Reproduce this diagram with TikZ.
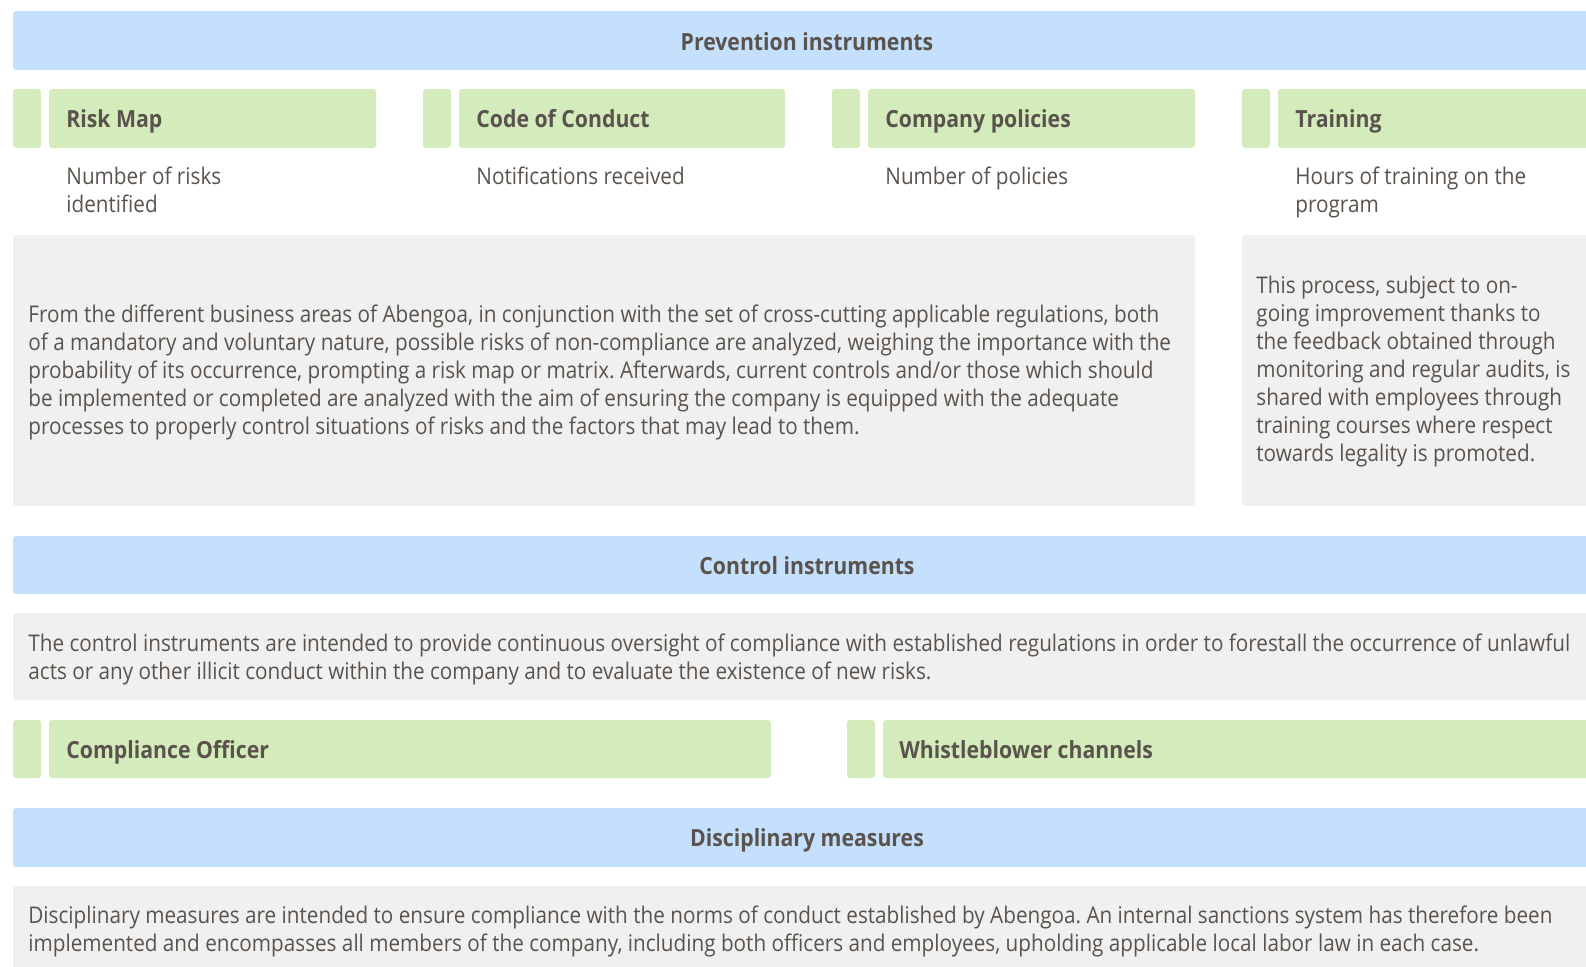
\documentclass[tikz,border=0pt]{standalone}
\usepackage{fontspec}
\setmainfont{Open Sans}[FakeStretch=0.9]
\frenchspacing
\definecolor{barblue}{RGB}{196,224,252}
\definecolor{tabgreen}{RGB}{212,235,187}
\definecolor{notegray}{RGB}{240,240,240}
\definecolor{ink}{RGB}{90,83,77}
\tikzset{
  titlebar/.style={fill=barblue,rounded corners=1.5pt},
  tab/.style={fill=tabgreen,rounded corners=1.5pt},
  notebox/.style={fill=notegray,rounded corners=1.5pt},
  title/.style={font=\fontsize{11.8}{14}\bfseries,anchor=base},
  head/.style={font=\fontsize{11.8}{14}\bfseries,anchor=base west},
  body/.style={align=left,anchor=north west},
}

\begin{document}
\begin{tikzpicture}[x=.5pt,y=-.5pt,every node/.style={text=ink,inner sep=0pt},font=\fontsize{11.5}{14}\selectfont]
\useasboundingbox (0,0) rectangle (1586,966);
\clip (0,0) rectangle (1586,966);
% prevention
\path[titlebar] (13,11) rectangle (1600,70);
\node[title] (prevention) at (807,50) {Prevention instruments};
\path[tab] (13,89) rectangle (41,148);
\path[tab] (49,89) rectangle (376,148);
\node[head] (riskmap) at (66,127) {Risk Map};
\node[body] (riskmapkpi) at (66,166) {Number of risks\\identified};
\path[tab] (423,89) rectangle (451,148);
\path[tab] (459,89) rectangle (785,148);
\node[head] (conduct) at (476,127) {Code of Conduct};
\node[body] (conductkpi) at (476,166) {Notifications received};
\path[tab] (832,89) rectangle (860,148);
\path[tab] (868,89) rectangle (1195,148);
\node[head] (policies) at (885,127) {Company policies};
\node[body] (policieskpi) at (885,166) {Number of policies};
\path[tab] (1242,89) rectangle (1270,148);
\path[tab] (1278,89) rectangle (1600,148);
\node[head] (training) at (1295,127) {Training};
\node[body] (trainingkpi) at (1295,166) {Hours of training on the\\program};
\path[notebox] (13,235) rectangle (1195,506);
\node[body] (riskmaptext) at (28,304) {From the different business areas of Abengoa, in conjunction with the set of cross-cutting applicable regulations, both\\
of a mandatory and voluntary nature, possible risks of non-compliance are analyzed, weighing the importance with the\\
probability of its occurrence, prompting a risk map or matrix. Afterwards, current controls and/or those which should\\
be implemented or completed are analyzed with the aim of ensuring the company is equipped with the adequate\\
processes to properly control situations of risks and the factors that may lead to them.};
\path[notebox] (1242,235) rectangle (1600,506);
\node[body] (trainingtext) at (1256,276) {This process, subject to on-\\
going improvement thanks to\\
the feedback obtained through\\
monitoring and regular audits, is\\
shared with employees through\\
training courses where respect\\
towards legality is promoted.};
% control
\path[titlebar] (13,536) rectangle (1600,594);
\node[title] (control) at (807,574) {Control instruments};
\path[notebox] (13,613) rectangle (1600,700);
\node[body] (controltext) at (28,633) {The control instruments are intended to provide continuous oversight of compliance with established regulations in order to forestall the occurrence of unlawful\\
acts or any other illicit conduct within the company and to evaluate the existence of new risks.};
\path[tab] (13,720) rectangle (41,778);
\path[tab] (49,720) rectangle (771,778);
\node[head] (officer) at (66,758) {Compliance Officer};
\path[tab] (847,720) rectangle (875,778);
\path[tab] (883,720) rectangle (1600,778);
\node[head] (whistle) at (899,758) {Whistleblower channels};
% disciplinary
\path[titlebar] (13,808) rectangle (1600,867);
\node[title] (disciplinary) at (807,846) {Disciplinary measures};
\path[notebox] (13,886) rectangle (1600,980);
\node[body] (disciplinarytext) at (28,905) {Disciplinary measures are intended to ensure compliance with the norms of conduct established by Abengoa. An internal sanctions system has therefore been\\
implemented and encompasses all members of the company, including both officers and employees, upholding applicable local labor law in each case.};
\end{tikzpicture}
\end{document}
